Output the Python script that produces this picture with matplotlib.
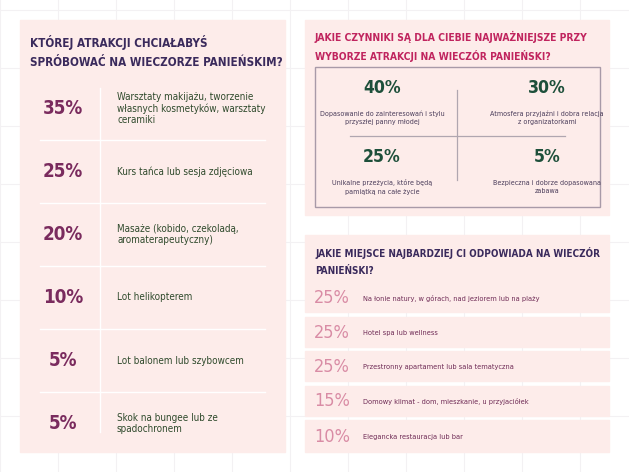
import matplotlib
matplotlib.use("Agg")
import matplotlib.pyplot as plt
from matplotlib.patches import Rectangle

# oryginał ma wąski krój, najbliżej jest DejaVu Sans Condensed
plt.rcParams["font.family"] = ["DejaVu Sans"]
plt.rcParams["font.stretch"] = "condensed"

W, H = 629, 472

# --- dane ---
title_left = ["KTÓREJ ATRAKCJI CHCIAŁABYŚ", "SPRÓBOWAĆ NA WIECZORZE PANIEŃSKIM?"]
left_pcts = [35, 25, 20, 10, 5, 5]
left_labels = [
    "Warsztaty makijażu, tworzenie\nwłasnych kosmetyków, warsztaty\nceramiki",
    "Kurs tańca lub sesja zdjęciowa",
    "Masaże (kobido, czekoladą,\naromaterapeutyczny)",
    "Lot helikopterem",
    "Lot balonem lub szybowcem",
    "Skok na bungee lub ze\nspadochronem",
]

title_factors = ["JAKIE CZYNNIKI SĄ DLA CIEBIE NAJWAŻNIEJSZE PRZY", "WYBORZE ATRAKCJI NA WIECZÓR PANIEŃSKI?"]
factor_pcts = [40, 30, 25, 5]
factor_labels = [
    "Dopasowanie do zainteresowań i stylu\nprzyszłej panny młodej",
    "Atmosfera przyjaźni i dobra relacja\nz organizatorkami",
    "Unikalne przeżycia, które będą\npamiątką na całe życie",
    "Bezpieczna i dobrze dopasowana\nzabawa",
]

title_place = ["JAKIE MIEJSCE NAJBARDZIEJ CI ODPOWIADA NA WIECZÓR", "PANIEŃSKI?"]
place_pcts = [25, 25, 25, 15, 10]
place_labels = [
    "Na łonie natury, w górach, nad jeziorem lub na plaży",
    "Hotel spa lub wellness",
    "Przestronny apartament lub sala tematyczna",
    "Domowy klimat - dom, mieszkanie, u przyjaciółek",
    "Elegancka restauracja lub bar",
]

PINK_BG = "#fdecea"
PURPLE = "#3a2a5c"
PLUM = "#7a2b5e"
GREEN = "#2f4a2c"
MAGENTA = "#c0245e"
DKGREEN = "#1d4f3a"
ROSE = "#d98ca5"

fig = plt.figure(figsize=(W / 100, H / 100), dpi=100)
ax = fig.add_axes([0, 0, 1, 1])
ax.set_xlim(0, W)
ax.set_ylim(H, 0)
ax.axis("off")

# tło w delikatną kratkę
for gx in range(0, W, 58):
    ax.plot([gx, gx], [0, H], color="#f3f1f3", lw=0.8, zorder=0)
for gy in range(10, H, 58):
    ax.plot([0, W], [gy, gy], color="#f3f1f3", lw=0.8, zorder=0)

# ---- lewy panel ----
ax.add_patch(Rectangle((20, 20), 265, 432, color=PINK_BG, zorder=1))
for i, line in enumerate(title_left):
    ax.text(30, 43 + i * 20, line, color=PURPLE, fontsize=8.4, fontweight="bold",
            va="center", ha="left", zorder=3)

row_y0, row_h = 77, 63
ax.plot([100, 100], [88, 432], color="white", lw=1, zorder=2)
for i, (p, lab) in enumerate(zip(left_pcts, left_labels)):
    cy = row_y0 + row_h * (i + 0.5)
    ax.text(63, cy, f"{p}%", color=PLUM, fontsize=13.5, fontweight="bold",
            ha="center", va="center", zorder=3)
    ax.text(117, cy, lab, color=GREEN, fontsize=7.1, ha="left", va="center",
            linespacing=1.2, zorder=3)
    if i < len(left_pcts) - 1:
        yy = row_y0 + row_h * (i + 1)
        ax.plot([40, 265], [yy, yy], color="white", lw=1, zorder=2)

# ---- prawy górny panel ----
ax.add_patch(Rectangle((305, 20), 304, 195, color=PINK_BG, zorder=1))
for i, line in enumerate(title_factors):
    ax.text(315, 37 + i * 19, line, color=MAGENTA, fontsize=7.4, fontweight="bold",
            va="center", ha="left", zorder=3)
ax.add_patch(Rectangle((315, 67), 285, 140, fill=False, ec="#a89aa8", lw=1, zorder=2))
ax.plot([457, 457], [90, 180], color="#b0a6b0", lw=0.9, zorder=2)
ax.plot([350, 565], [136, 136], color="#b0a6b0", lw=0.9, zorder=2)
centers = [(382, 88), (547, 88), (382, 157), (547, 157)]
for (cx, cy), p, lab in zip(centers, factor_pcts, factor_labels):
    ax.text(cx, cy, f"{p}%", color=DKGREEN, fontsize=12.6, fontweight="bold",
            ha="center", va="center", zorder=3)
    ax.text(cx, cy + 30, lab, color="#4a3c5a", fontsize=5.1, ha="center", va="center",
            linespacing=1.45, zorder=3)

# ---- prawy dolny panel ----
ax.add_patch(Rectangle((305, 235), 304, 47, color=PINK_BG, zorder=1))
for i, line in enumerate(title_place):
    ax.text(315, 253 + i * 18, line, color=PURPLE, fontsize=7.1, fontweight="bold",
            va="center", ha="left", zorder=3)
stripe_top, stripe_h, stripe_gap = 282, 30, 4.5
for i, (p, lab) in enumerate(zip(place_pcts, place_labels)):
    y0 = stripe_top + i * (stripe_h + stripe_gap)
    h = stripe_h if i < len(place_pcts) - 1 else stripe_h + 2
    ax.add_patch(Rectangle((305, y0), 304, h, color=PINK_BG, zorder=1))
    cy = y0 + h / 2 + 1
    ax.text(332, cy, f"{p}%", color=ROSE, fontsize=13, ha="center", va="center", zorder=3)
    ax.text(363, cy, lab, color="#6e2a55", fontsize=5.3, ha="left", va="center", zorder=3)

fig.savefig("out.png", dpi=100, facecolor="white")
